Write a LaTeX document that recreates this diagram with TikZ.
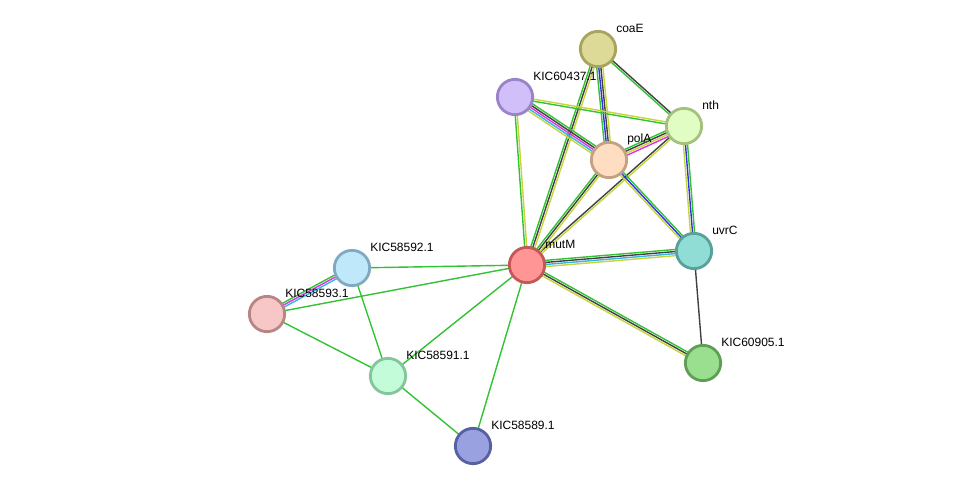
\documentclass[tikz,border=0pt]{standalone}
\usepackage{fontspec}
\setmainfont{Liberation Sans}
\usetikzlibrary{calc}
\definecolor{eg}{HTML}{33C233}
\definecolor{ek}{HTML}{404040}
\definecolor{ey}{HTML}{C4D63A}
\definecolor{eb}{HTML}{2F2FE6}
\definecolor{ec}{HTML}{33B5E5}
\definecolor{em}{HTML}{E033E0}
\tikzset{
  prot/.style 2 args={circle,draw=#2,fill=#1,line width=2.1pt,minimum size=26.5pt,inner sep=0pt},
  lab/.style={anchor=west,font=\fontsize{9}{10}\selectfont,text=black,inner sep=0pt},
  edge/.style={line width=1.05pt}
}
\newcommand{\medge}[3]{%
  \foreach \c [count=\i] in {#3} {\xdef\nn{\i}}%
  \foreach \c [count=\i] in {#3} {%
    \pgfmathsetmacro{\off}{(\i-(\nn+1)/2)*1.55}%
    \draw[edge,\c] ($(#1)!\off pt!90:(#2)$) -- ($(#2)!\off pt!-90:(#1)$);
  }}
\begin{document}
\begin{tikzpicture}[x=0.75pt,y=-0.75pt]
\useasboundingbox (0,0) rectangle (975,492);
\coordinate (coaE) at (598,49);
\coordinate (k437) at (515,97);
\coordinate (nth) at (684,126);
\coordinate (polA) at (609,160);
\coordinate (uvrC) at (694,251);
\coordinate (mutM) at (527,265);
\coordinate (k592) at (352,268);
\coordinate (k593) at (267,314);
\coordinate (k591) at (388,376);
\coordinate (k905) at (703,363);
\coordinate (k589) at (473,446);
\medge{coaE}{polA}{eg,eb,ek,ey}
\medge{coaE}{nth}{eg,ek}
\medge{coaE}{mutM}{eg,ek,ey}
\medge{k437}{polA}{ey,ec,em,ek,eg}
\medge{k437}{nth}{eg,ey}
\medge{k437}{mutM}{eg,ey}
\medge{nth}{polA}{eg,ek,ey,em}
\medge{nth}{uvrC}{ey,eb,eg}
\medge{nth}{mutM}{ek,ey}
\medge{polA}{mutM}{eg,ek,ey}
\medge{polA}{uvrC}{ey,eb,eg}
\medge{mutM}{uvrC}{ey,ec,ek,eg}
\medge{mutM}{k905}{ey,ek,eg}
\medge{uvrC}{k905}{ek}
\medge{k592}{k593}{eg,em,ec}
\medge{k592}{mutM}{eg}
\medge{k593}{mutM}{eg}
\medge{k592}{k591}{eg}
\medge{k593}{k591}{eg}
\medge{mutM}{k591}{eg}
\medge{mutM}{k589}{eg}
\medge{k591}{k589}{eg}
\foreach \n/\f/\b/\t in {coaE/DCDA96/A8A45E/coaE, k437/D1BFF9/9A83C9/KIC60437.1, nth/E1FDC3/A6C080/nth, polA/FEDDC0/C2A283/polA, uvrC/8FDDD4/58A19A/uvrC, mutM/FF9595/C45858/mutM, k592/C0E8FB/82A8C2/KIC58592.1, k593/F7C7C7/B88585/KIC58593.1, k591/C3FCD8/84C69C/KIC58591.1, k905/9ADE8F/5E9E55/KIC60905.1, k589/9AA1E0/5760A0/KIC58589.1} {
  \definecolor{nf}{HTML}{\f}\definecolor{nb}{HTML}{\b}
  \node[prot={nf}{nb}] (\n-n) at (\n) {};
  \node[lab] (\n-l) at ($(\n)+(18,-21)$) {\t};
}
\end{tikzpicture}
\end{document}
